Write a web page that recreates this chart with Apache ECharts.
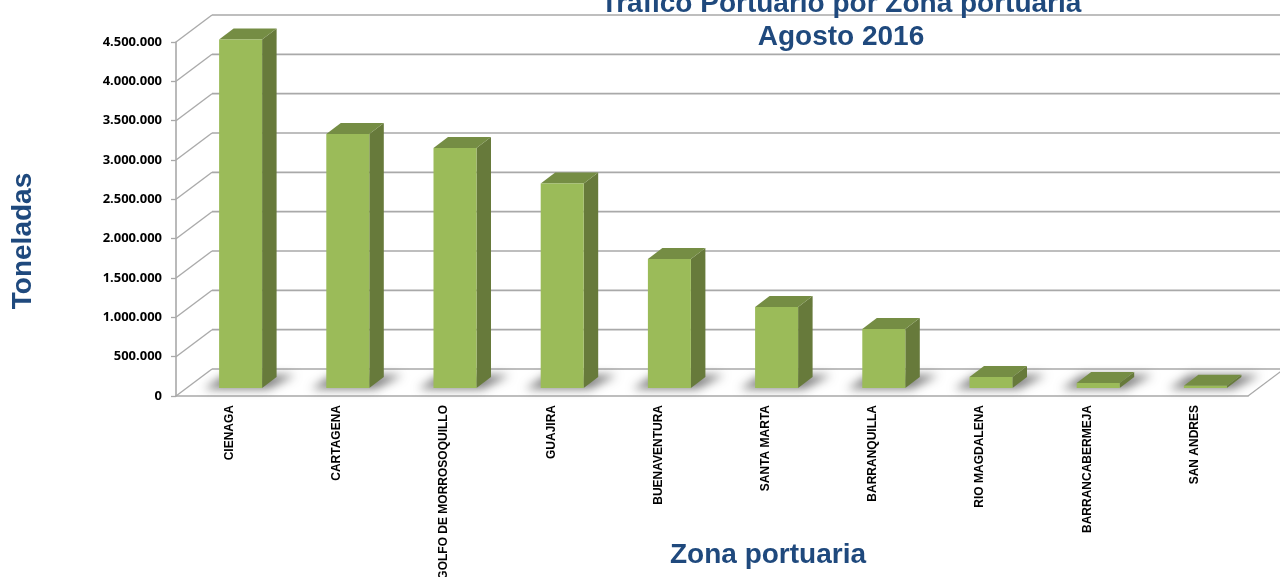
<!DOCTYPE html>
<html>
<head>
<meta charset="utf-8">
<style>html,body{margin:0;padding:0;background:#fff}#c{width:1280px;height:577px}</style>
<script src="https://cdn.jsdelivr.net/npm/echarts@6/dist/echarts.min.js"></script>
</head>
<body>
<div id="c"></div>
<script>
const categories = ['CIENAGA','CARTAGENA','GOLFO DE MORROSOQUILLO','GUAJIRA','BUENAVENTURA','SANTA MARTA','BARRANQUILLA','RIO MAGDALENA','BARRANCABERMEJA','SAN ANDRES'];
const toneladas = [4430000,3230000,3050000,2600000,1640000,1030000,750000,140000,64000,30000];
const yTicks = [0,500000,1000000,1500000,2000000,2500000,3000000,3500000,4000000,4500000];

const DEPTH_X = 36, DEPTH_Y = -27;
const BASE_X = 11, BASE_Y = -8, BAR_W = 43, BD_X = 14.5, BD_Y = -11;
const GRID_COLOR = '#a9a9a9';
const BLUE = '#1f497d';
const OFF = 3000;

function fmt(v){ return String(v).replace(/\B(?=(\d{3})+$)/g,'.'); }

function renderWall(params, api){
  const cs = params.coordSys;
  const p = api.coord([0, api.value(0)]);
  const y = p[1], x0 = cs.x, x1 = cs.x + cs.width;
  const st = {stroke:GRID_COLOR, lineWidth:1.6, fill:null};
  const children = [
    {type:'line', shape:{x1:x0,y1:y,x2:x0+DEPTH_X,y2:y+DEPTH_Y}, style:{stroke:GRID_COLOR,lineWidth:1.3}},
    {type:'line', shape:{x1:x0+DEPTH_X,y1:y+DEPTH_Y,x2:1290,y2:y+DEPTH_Y}, style:st}
  ];
  if (api.value(0) === 0) {
    children.push({type:'line', shape:{x1:x1,y1:y,x2:x1+DEPTH_X,y2:y+DEPTH_Y}, style:{stroke:GRID_COLOR,lineWidth:1.3}});
  }
  return {type:'group', children};
}

function renderShadow(params, api){
  const c = api.coord([api.value(0), 0]);
  const xl = c[0] + BASE_X - BAR_W/2 - OFF, xr = xl + BAR_W, yb = c[1] + BASE_Y;
  return {type:'polygon',
    shape:{points:[[xl-15,yb+1],[xr+6,yb+1],[xr+33,yb-13],[xl+6,yb-13]]},
    style:{fill:'#000', shadowBlur:10, shadowOffsetX:OFF, shadowColor:'rgba(105,105,105,0.85)'}};
}

function renderBar(params, api){
  const c = api.coord([api.value(0), 0]);
  const t = api.coord([api.value(0), api.value(1)]);
  const xl = c[0] + BASE_X - BAR_W/2, xr = xl + BAR_W;
  const yb = c[1] + BASE_Y, yt = t[1] + BASE_Y;
  return {type:'group', children:[
    {type:'polygon', shape:{points:[[xr,yt],[xr+BD_X,yt+BD_Y],[xr+BD_X,yb+BD_Y],[xr,yb]]}, style:{fill:'#677a3b'}},
    {type:'polygon', shape:{points:[[xl,yt],[xr,yt],[xr+BD_X,yt+BD_Y],[xl+BD_X,yt+BD_Y]]}, style:{fill:'#758d44'}},
    {type:'rect', shape:{x:xl,y:yt,width:BAR_W,height:yb-yt}, style:{fill:'#9bbb59'}}
  ]};
}

const chart = echarts.init(document.getElementById('c'), null, {renderer:'canvas'});
chart.setOption({
  animation:false,
  backgroundColor:'#fff',
  title:{
    text:'Trafico Portuario por Zona portuaria\nAgosto 2016',
    left:836, top:-17, textAlign:'center',
    textStyle:{fontFamily:'Liberation Sans',fontWeight:'bold',fontSize:28,color:BLUE,lineHeight:33}
  },
  grid:{left:176,right:32,top:42,bottom:181,containLabel:false,outerBoundsMode:'none'},
  xAxis:{
    type:'category', data:categories,
    axisLine:{lineStyle:{color:GRID_COLOR,width:1.6}},
    axisTick:{show:false},
    axisLabel:{rotate:90,margin:9,interval:0,color:'#000',fontFamily:'Liberation Sans',fontWeight:'bold',fontSize:12,hideOverlap:false},
    name:'Zona portuaria', nameLocation:'middle', nameGap:145, nameMoveOverlap:false,
    nameTextStyle:{fontFamily:'Liberation Sans',fontWeight:'bold',fontSize:28,color:BLUE,padding:[0,0,0,112]}
  },
  yAxis:{
    type:'value', min:0, max:4500000, interval:500000,
    axisLine:{show:true,lineStyle:{color:GRID_COLOR,width:1.6}},
    axisTick:{show:true,length:5,lineStyle:{color:GRID_COLOR,width:1.3}},
    splitLine:{show:false},
    axisLabel:{margin:14,color:'#000',fontFamily:'Noto Sans',fontWeight:'bold',fontSize:13,formatter:fmt},
    name:'Toneladas', nameLocation:'middle', nameRotate:90, nameGap:139, nameMoveOverlap:false,
    nameTextStyle:{fontFamily:'Liberation Sans',fontWeight:'bold',fontSize:28,color:BLUE,padding:[0,44,0,0]}
  },
  series:[
    {type:'custom', name:'walls', coordinateSystem:'cartesian2d', clip:false, silent:true, z:1,
     encode:{y:0}, data:yTicks.map(v=>[v]), renderItem:renderWall},
    {type:'custom', name:'sombra', coordinateSystem:'cartesian2d', clip:false, silent:true, z:2,
     encode:{x:0,y:1}, data:toneladas.map((v,i)=>[i,v]), renderItem:renderShadow},
    {type:'custom', name:'Toneladas', coordinateSystem:'cartesian2d', clip:false, z:3,
     encode:{x:0,y:1}, data:toneladas.map((v,i)=>[i,v]), renderItem:renderBar}
  ]
});
</script>
</body>
</html>
